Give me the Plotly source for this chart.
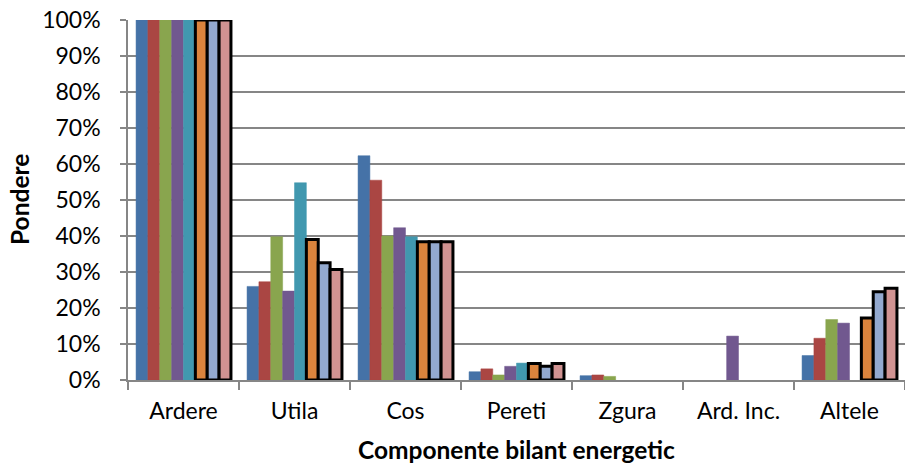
import plotly.graph_objects as go

categories = ["Ardere", "Utila", "Cos", "Pereti", "Zgura", "Ard. Inc.", "Altele"]

# Share of each energy-balance component (percent), one list per series;
# None marks a component that has no value in that series
series_1 = [100, 26.0, 62.3, 2.3, 1.2, None, 6.8]
series_2 = [100, 27.3, 55.5, 3.1, 1.4, None, 11.6]
series_3 = [100, 39.8, 40.0, 1.4, 1.0, None, 16.8]
series_4 = [100, 24.7, 42.3, 3.8, None, 12.2, 15.8]
series_5 = [100, 54.8, 39.8, 4.7, None, None, None]
series_6 = [100, 39.0, 38.4, 4.6, None, None, 17.2]
series_7 = [100, 32.6, 38.4, 3.8, None, None, 24.5]
series_8 = [100, 30.7, 38.4, 4.6, None, None, 25.5]

series = [series_1, series_2, series_3, series_4, series_5, series_6, series_7, series_8]
colors = ["#4572A7", "#AA4643", "#89A54E", "#71588F", "#4198AF", "#DB843D", "#93A9CF", "#D19392"]
outlined = [False, False, False, False, False, True, True, True]

y_ticks = [0, 10, 20, 30, 40, 50, 60, 70, 80, 90, 100]
y_tick_text = [f"{v}%" for v in y_ticks]

font_family = "Lato, 'Open Sans', sans-serif"
font_size = 23
title_size = 24.5

fig = go.Figure()
for i, (vals, col, out) in enumerate(zip(series, colors, outlined)):
    fig.add_trace(go.Bar(
        x=categories,
        y=vals,
        name=f"S{i + 1}",
        marker=dict(
            color=col,
            line=dict(color="#000000" if out else col, width=3 if out else 0.5),
        ),
    ))

axis_grey = "#868686"

fig.update_layout(
    width=905,
    height=471,
    margin=dict(l=128, r=0, t=20, b=91),
    paper_bgcolor="white",
    plot_bgcolor="white",
    barmode="group",
    bargap=0.145,
    bargroupgap=0,
    showlegend=False,
    font=dict(family=font_family, size=font_size, color="#000000"),
    xaxis=dict(
        showgrid=False,
        showline=True,
        linecolor=axis_grey,
        linewidth=1.5,
        ticks="outside",
        tickson="boundaries",
        ticklen=8,
        tickcolor=axis_grey,
        tickwidth=1.5,
        ticklabelstandoff=10,
        tickfont=dict(size=font_size),
    ),
    yaxis=dict(
        range=[0, 100],
        tickvals=y_ticks,
        ticktext=y_tick_text,
        showgrid=True,
        gridcolor=axis_grey,
        gridwidth=1.5,
        showline=True,
        linecolor=axis_grey,
        linewidth=1.5,
        ticks="outside",
        ticklen=6,
        tickcolor=axis_grey,
        tickwidth=1.5,
        ticklabelstandoff=15,
        tickfont=dict(size=font_size),
        zeroline=False,
    ),
    annotations=[
        dict(
            text="<b>Componente bilant energetic</b>",
            xref="paper", yref="paper", x=0.5, y=0,
            xanchor="center", yanchor="middle",
            yshift=-69, showarrow=False,
            font=dict(size=title_size),
        ),
        dict(
            text="<b>Pondere</b>",
            xref="paper", yref="paper", x=0, y=0.5,
            xanchor="center", yanchor="middle",
            xshift=-109, textangle=-90, showarrow=False,
            font=dict(size=title_size),
        ),
    ],
)

fig.write_html("out.html")
